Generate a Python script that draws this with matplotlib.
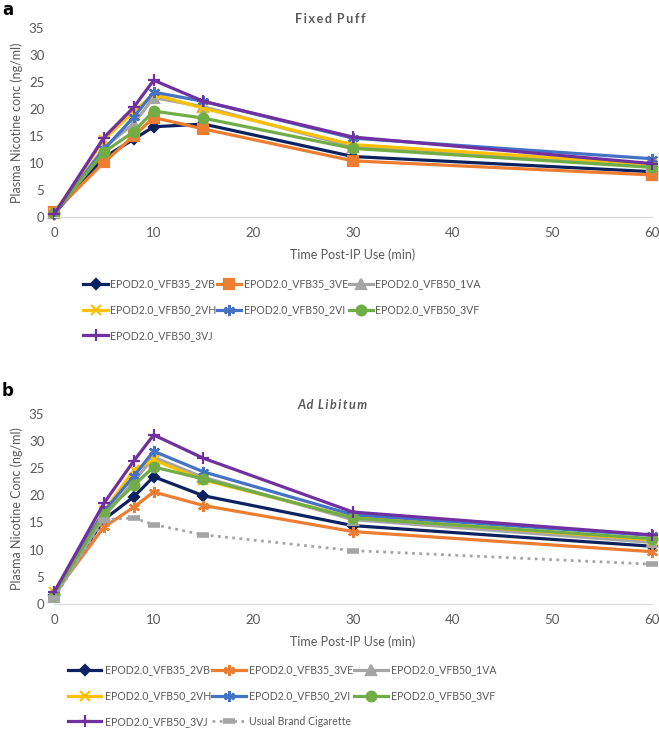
import matplotlib
matplotlib.use("Agg")
import matplotlib.pyplot as plt

plt.rcParams['font.family'] = ['Lato', 'DejaVu Sans']

# sampling times (min)
times = [0, 5, 8, 10, 15, 30, 60]

labels = ['EPOD2.0_VFB35_2VB', 'EPOD2.0_VFB35_3VE', 'EPOD2.0_VFB50_1VA',
          'EPOD2.0_VFB50_2VH', 'EPOD2.0_VFB50_2VI', 'EPOD2.0_VFB50_3VF',
          'EPOD2.0_VFB50_3VJ']
cig_label = 'Usual Brand Cigarette'

# panel a - fixed puff
fixed_2VB = [0.6, 11.0, 14.4, 16.7, 17.2, 11.2, 8.4]
fixed_3VE = [0.9, 10.1, 15.0, 18.4, 16.3, 10.4, 7.8]
fixed_1VA = [0.8, 12.8, 17.3, 22.1, 20.4, 13.0, 9.5]
fixed_2VH = [0.7, 14.3, 19.5, 22.7, 20.1, 13.4, 9.8]
fixed_2VI = [0.5, 12.5, 18.5, 23.1, 21.4, 14.6, 10.8]
fixed_3VF = [0.7, 12.0, 15.8, 19.6, 18.3, 12.7, 9.2]
fixed_3VJ = [0.5, 14.7, 20.3, 25.3, 21.4, 14.8, 9.9]

# panel b - ad libitum
adlib_2VB = [1.6, 15.5, 19.7, 23.4, 19.9, 14.4, 10.6]
adlib_3VE = [1.8, 14.1, 17.8, 20.6, 18.1, 13.3, 9.6]
adlib_1VA = [1.2, 16.0, 22.5, 27.0, 23.3, 15.5, 11.3]
adlib_2VH = [2.2, 17.0, 24.6, 26.5, 22.8, 15.9, 11.8]
adlib_2VI = [1.8, 17.0, 23.5, 28.1, 24.3, 16.4, 12.6]
adlib_3VF = [1.6, 16.6, 21.8, 25.2, 23.0, 15.8, 12.0]
adlib_3VJ = [2.1, 18.5, 26.3, 31.1, 26.8, 16.9, 12.7]
adlib_cig = [1.0, 15.5, 15.8, 14.6, 12.7, 9.8, 7.3]

colors = ['#0B2160', '#ED7D31', '#A5A5A5', '#FFC000', '#4472C4', '#70AD47', '#7030A0']
star = (6, 2, 0)
markers_a = ['D', 's', '^', 'x', star, 'o', '+']
msize_a = [5, 6.5, 6.5, 7, 8, 7, 8]
markers_b = ['D', star, '^', 'x', star, 'o', '+']
msize_b = [5, 8, 6.5, 7, 8, 7, 8]

grey_txt = '#595959'
thin = '\u2009'

fig = plt.figure(figsize=(6.59, 7.31), dpi=100)
ax_a = fig.add_axes([0.082, 0.703, 0.907, 0.259])
ax_b = fig.add_axes([0.082, 0.174, 0.907, 0.260])


def style(ax, ylabel):
    ax.set_xlim(0, 60)
    ax.set_ylim(0, 35)
    ax.set_yticks(range(0, 36, 5))
    ax.set_xticks(range(0, 61, 10))
    for s in ['top', 'right', 'left']:
        ax.spines[s].set_visible(False)
    ax.spines['bottom'].set_color('#D9D9D9')
    ax.tick_params(length=0, labelsize=9.5, labelcolor=grey_txt, pad=7)
    ax.set_xlabel('Time Post-IP Use (min)', fontsize=9, color=grey_txt, labelpad=7)
    ax.set_ylabel(ylabel, fontsize=9, color=grey_txt, labelpad=4)


def reorder(h, l):
    # legend reads row by row, matplotlib fills columns
    n = len(h)
    idx = list(range(0, n, 3)) + list(range(1, n, 3)) + list(range(2, n, 3))
    return [h[i] for i in idx], [l[i] for i in idx]


def spaced(txt):
    return thin.join(txt).replace(thin + ' ' + thin, thin * 3)


series_a = [fixed_2VB, fixed_3VE, fixed_1VA, fixed_2VH, fixed_2VI, fixed_3VF, fixed_3VJ]
for vals, lab, c, m, ms in zip(series_a, labels, colors, markers_a, msize_a):
    ax_a.plot(times, vals, color=c, lw=2.3, marker=m, ms=ms, mew=1.6,
              label=lab, clip_on=False)
style(ax_a, 'Plasma Nicotine conc (ng/ml)')
fig.text(0.501, 0.974, spaced('Fixed Puff'), fontsize=9, fontweight='bold',
         color=grey_txt, ha='center', va='center')
h, l = reorder(*ax_a.get_legend_handles_labels())
fig.legend(h, l, loc='upper center', bbox_to_anchor=(0.428, 0.632), ncol=3,
           frameon=False, fontsize=7.6, handlelength=2.3, handletextpad=0.2,
           columnspacing=0.1, labelspacing=1.4, labelcolor=grey_txt)

series_b = [adlib_2VB, adlib_3VE, adlib_1VA, adlib_2VH, adlib_2VI, adlib_3VF, adlib_3VJ]
for vals, lab, c, m, ms in zip(series_b, labels, colors, markers_b, msize_b):
    ax_b.plot(times, vals, color=c, lw=2.3, marker=m, ms=ms, mew=1.6,
              label=lab, clip_on=False)
ax_b.plot(times, adlib_cig, color='#A5A5A5', lw=2, ls=(0, (1, 1.6)), marker='_',
          ms=9, mew=4, label=cig_label, clip_on=False)
style(ax_b, 'Plasma Nicotine Conc (ng/ml)')
fig.text(0.504, 0.446, spaced('Ad Libitum'), fontsize=9, fontweight='bold',
         fontstyle='italic', color=grey_txt, ha='center', va='center')
h, l = reorder(*ax_b.get_legend_handles_labels())
fig.legend(h, l, loc='upper center', bbox_to_anchor=(0.428, 0.104), ncol=3,
           frameon=False, fontsize=7.6, handlelength=3.2, handletextpad=0.3,
           columnspacing=0.1, labelspacing=1.4, labelcolor=grey_txt)

fig.text(0.003, 0.998, 'a', fontsize=12, fontweight='bold', va='top', family='DejaVu Sans')
fig.text(0.003, 0.478, 'b', fontsize=12, fontweight='bold', va='top', family='DejaVu Sans')

fig.savefig('out.png', dpi=100)
